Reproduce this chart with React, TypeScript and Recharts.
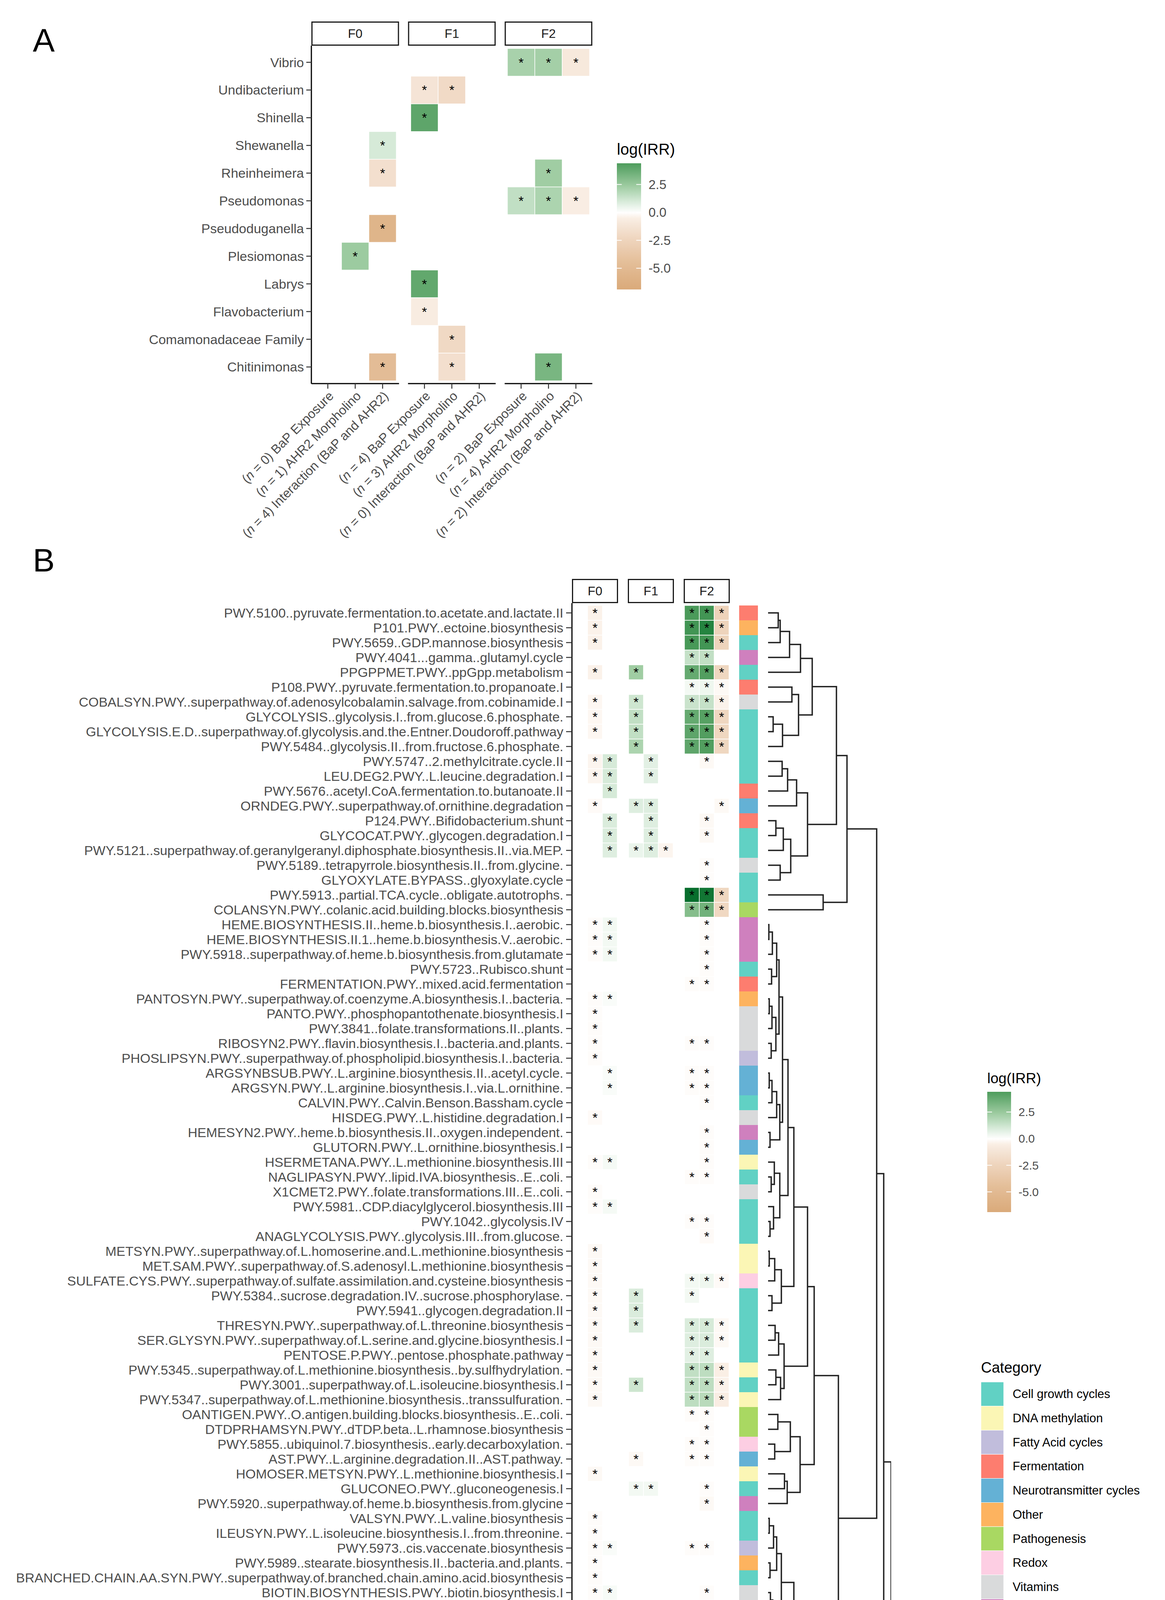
import React from 'react';
import { ScatterChart, Scatter, XAxis, YAxis, ReferenceLine } from 'recharts';

const FONT = "'Liberation Sans', Arial, Helvetica, sans-serif";
const GREY30 = '#4d4d4d';

const generations = ['F0', 'F1', 'F2'];
const terms = ['BaP Exposure', 'AHR2 Morpholino', 'Interaction (BaP and AHR2)'];

// ---------------- panel A : genera ----------------
const taxa = [
  'Vibrio', 'Undibacterium', 'Shinella', 'Shewanella', 'Rheinheimera', 'Pseudomonas',
  'Pseudoduganella', 'Plesiomonas', 'Labrys', 'Flavobacterium', 'Comamonadaceae Family', 'Chitinimonas',
];

// [row in taxa (1-based), log(IRR)] - every tile drawn is significant (*)
const taxaF0Bap: number[][] = [];
const taxaF0Ahr2 = [[8, 2.4]];
const taxaF0Int = [[4, 1.0], [5, -1.6], [7, -5.6], [12, -4.7]];
const taxaF1Bap = [[2, -1.2], [3, 4.0], [9, 3.9], [10, -0.7]];
const taxaF1Ahr2 = [[2, -2.0], [11, -2.1], [12, -1.6]];
const taxaF1Int: number[][] = [];
const taxaF2Bap = [[1, 2.1], [6, 1.5]];
const taxaF2Ahr2 = [[1, 2.2], [5, 2.3], [6, 2.0], [12, 3.3]];
const taxaF2Int = [[1, -0.9], [6, -0.6]];

// ---------------- panel B : pathways ----------------
const pathways = [
  'PWY.5100..pyruvate.fermentation.to.acetate.and.lactate.II',
  'P101.PWY..ectoine.biosynthesis',
  'PWY.5659..GDP.mannose.biosynthesis',
  'PWY.4041...gamma..glutamyl.cycle',
  'PPGPPMET.PWY..ppGpp.metabolism',
  'P108.PWY..pyruvate.fermentation.to.propanoate.I',
  'COBALSYN.PWY..superpathway.of.adenosylcobalamin.salvage.from.cobinamide.I',
  'GLYCOLYSIS..glycolysis.I..from.glucose.6.phosphate.',
  'GLYCOLYSIS.E.D..superpathway.of.glycolysis.and.the.Entner.Doudoroff.pathway',
  'PWY.5484..glycolysis.II..from.fructose.6.phosphate.',
  'PWY.5747..2.methylcitrate.cycle.II',
  'LEU.DEG2.PWY..L.leucine.degradation.I',
  'PWY.5676..acetyl.CoA.fermentation.to.butanoate.II',
  'ORNDEG.PWY..superpathway.of.ornithine.degradation',
  'P124.PWY..Bifidobacterium.shunt',
  'GLYCOCAT.PWY..glycogen.degradation.I',
  'PWY.5121..superpathway.of.geranylgeranyl.diphosphate.biosynthesis.II..via.MEP.',
  'PWY.5189..tetrapyrrole.biosynthesis.II..from.glycine.',
  'GLYOXYLATE.BYPASS..glyoxylate.cycle',
  'PWY.5913..partial.TCA.cycle..obligate.autotrophs.',
  'COLANSYN.PWY..colanic.acid.building.blocks.biosynthesis',
  'HEME.BIOSYNTHESIS.II..heme.b.biosynthesis.I..aerobic.',
  'HEME.BIOSYNTHESIS.II.1..heme.b.biosynthesis.V..aerobic.',
  'PWY.5918..superpathway.of.heme.b.biosynthesis.from.glutamate',
  'PWY.5723..Rubisco.shunt',
  'FERMENTATION.PWY..mixed.acid.fermentation',
  'PANTOSYN.PWY..superpathway.of.coenzyme.A.biosynthesis.I..bacteria.',
  'PANTO.PWY..phosphopantothenate.biosynthesis.I',
  'PWY.3841..folate.transformations.II..plants.',
  'RIBOSYN2.PWY..flavin.biosynthesis.I..bacteria.and.plants.',
  'PHOSLIPSYN.PWY..superpathway.of.phospholipid.biosynthesis.I..bacteria.',
  'ARGSYNBSUB.PWY..L.arginine.biosynthesis.II..acetyl.cycle.',
  'ARGSYN.PWY..L.arginine.biosynthesis.I..via.L.ornithine.',
  'CALVIN.PWY..Calvin.Benson.Bassham.cycle',
  'HISDEG.PWY..L.histidine.degradation.I',
  'HEMESYN2.PWY..heme.b.biosynthesis.II..oxygen.independent.',
  'GLUTORN.PWY..L.ornithine.biosynthesis.I',
  'HSERMETANA.PWY..L.methionine.biosynthesis.III',
  'NAGLIPASYN.PWY..lipid.IVA.biosynthesis..E..coli.',
  'X1CMET2.PWY..folate.transformations.III..E..coli.',
  'PWY.5981..CDP.diacylglycerol.biosynthesis.III',
  'PWY.1042..glycolysis.IV',
  'ANAGLYCOLYSIS.PWY..glycolysis.III..from.glucose.',
  'METSYN.PWY..superpathway.of.L.homoserine.and.L.methionine.biosynthesis',
  'MET.SAM.PWY..superpathway.of.S.adenosyl.L.methionine.biosynthesis',
  'SULFATE.CYS.PWY..superpathway.of.sulfate.assimilation.and.cysteine.biosynthesis',
  'PWY.5384..sucrose.degradation.IV..sucrose.phosphorylase.',
  'PWY.5941..glycogen.degradation.II',
  'THRESYN.PWY..superpathway.of.L.threonine.biosynthesis',
  'SER.GLYSYN.PWY..superpathway.of.L.serine.and.glycine.biosynthesis.I',
  'PENTOSE.P.PWY..pentose.phosphate.pathway',
  'PWY.5345..superpathway.of.L.methionine.biosynthesis..by.sulfhydrylation.',
  'PWY.3001..superpathway.of.L.isoleucine.biosynthesis.I',
  'PWY.5347..superpathway.of.L.methionine.biosynthesis..transsulfuration.',
  'OANTIGEN.PWY..O.antigen.building.blocks.biosynthesis..E..coli.',
  'DTDPRHAMSYN.PWY..dTDP.beta..L.rhamnose.biosynthesis',
  'PWY.5855..ubiquinol.7.biosynthesis..early.decarboxylation.',
  'AST.PWY..L.arginine.degradation.II..AST.pathway.',
  'HOMOSER.METSYN.PWY..L.methionine.biosynthesis.I',
  'GLUCONEO.PWY..gluconeogenesis.I',
  'PWY.5920..superpathway.of.heme.b.biosynthesis.from.glycine',
  'VALSYN.PWY..L.valine.biosynthesis',
  'ILEUSYN.PWY..L.isoleucine.biosynthesis.I..from.threonine.',
  'PWY.5973..cis.vaccenate.biosynthesis',
  'PWY.5989..stearate.biosynthesis.II..bacteria.and.plants.',
  'BRANCHED.CHAIN.AA.SYN.PWY..superpathway.of.branched.chain.amino.acid.biosynthesis',
  'BIOTIN.BIOSYNTHESIS.PWY..biotin.biosynthesis.I',
  'NONOXIPENT.PWY..pentose.phosphate.pathway..non.oxidative.branch..I',
  'GLYCOGENSYNTH.PWY..glycogen.biosynthesis.I..from.ADP.D.Glucose.',
  'PWY.5136..fatty.acid..beta..oxidation.II..plant.peroxisome.',
  'FAO.PWY..fatty.acid..beta..oxidation.I..generic.',
  'FASYN.ELONG.PWY..fatty.acid.elongation....saturated',
  'PWY.5138..fatty.acid..beta..oxidation.IV..unsaturated..even.number.',
  'SALVADEHYPOX.PWY..adenosine.nucleotides.degradation.II',
  'LIPASYN.PWY..phospholipases',
  'FUCCAT.PWY..fucose.degradation',
  'PWY.4984..urea.cycle',
  'CITRULBIO.PWY..L.citrulline.biosynthesis',
  'PWY.5837..2.carboxy.1.4.naphthoquinol.biosynthesis',
  'PWY.5898..superpathway.of.menaquinol.12.biosynthesis',
  'PWY.5897..superpathway.of.menaquinol.11.biosynthesis',
  'PWY.5899..superpathway.of.menaquinol.13.biosynthesis',
  'P441.PWY..superpathway.of.N.acetylneuraminate.degradation',
  'P42.PWY..incomplete.reductive.TCA.cycle',
  'TYRFUMCAT.PWY..L.tyrosine.degradation.I',
  'POLYISOPRENSYN.PWY..polyisoprenoid.biosynthesis..E..coli.',
  'PWY.5972..stearate.biosynthesis.I..animals.',
  'P221.PWY..octane.oxidation',
  'VALDEG.PWY..L.valine.degradation.I',
];

const categories = [
  'Cell growth cycles', 'DNA methylation', 'Fatty Acid cycles', 'Fermentation', 'Neurotransmitter cycles',
  'Other', 'Pathogenesis', 'Redox', 'Vitamins', 'Xenobiotic metabolism',
];
const categoryColors = [
  '#61d1c4', '#fbf6b5', '#c1bddc', '#fd7d6f', '#64b1d5', '#fdb35f', '#a9d862', '#fdcee3', '#d9dadb', '#cf80be',
];
// index into categories, one per pathway row
const pathwayCategory = [
  3, 5, 0, 9, 0, 3, 8, 0, 0, 0, 0, 0,
  3, 4, 3, 0, 0, 8, 0, 0, 6,
  9, 9, 9, 0, 3, 5, 8, 8, 8, 2, 4, 4, 0, 8, 9, 4, 1, 0, 8,
  0, 0, 0, 1, 1, 7, 0, 0, 0, 0, 0, 1, 0, 1, 6, 6, 7, 4, 1, 0,
  9, 0, 0, 2, 5, 0, 8, 0, 0, 2, 2, 2, 2, 0, 2, 0, 0, 4, 8, 7, 7, 7, 6, 0, 0, 0, 5, 9, 0,
];

// [row in pathways (1-based), log(IRR)]
const pathF0Bap: number[][] = [];
const pathF0Ahr2 = [
  [1, -0.4], [2, -0.4], [3, -0.4], [5, -0.4], [7, -0.25], [8, -0.25], [9, -0.25], [11, -0.3], [12, -0.3],
  [14, -0.15], [22, -0.1], [23, -0.1], [24, -0.1], [27, -0.1], [28, -0.1], [29, -0.1], [30, -0.1], [31, -0.1],
  [35, -0.15], [38, -0.1], [40, -0.1], [41, -0.1], [44, -0.2], [45, -0.2], [46, -0.2], [47, -0.2], [48, -0.2],
  [49, -0.2], [50, -0.2], [51, -0.2], [52, -0.2], [53, -0.2], [54, -0.2], [59, -0.2], [62, -0.1], [63, -0.1],
  [64, -0.1], [65, -0.1], [66, -0.1], [67, -0.1], [68, -0.1], [69, -0.1], [72, -0.1], [76, 7.2], [77, 4.2],
  [78, 4.0], [79, 2.4],
];
const pathF0Int = [
  [11, 1.0], [12, 1.0], [13, 1.0], [15, 0.9], [16, 0.9], [17, 0.8], [22, 0.3], [23, 0.3], [24, 0.3], [27, 0.15],
  [32, 0.15], [33, 0.15], [38, 0.25], [41, 0.25], [64, 0.15], [67, 0.2], [70, 0.3], [71, 0.3], [72, 0.3], [73, 0.3],
  [83, -4.8], [84, -2.8],
];
const pathF1Bap = [
  [5, 2.3], [7, 1.2], [8, 1.5], [9, 1.5], [10, 2.0], [14, 0.8], [17, 0.5], [47, 0.9], [48, 0.9], [49, 0.9],
  [53, 1.2], [58, -0.2], [60, 0.3],
];
const pathF1Ahr2 = [[11, 0.7], [12, 0.7], [14, 0.8], [15, 0.8], [16, 0.8], [17, 0.8], [60, 0.3]];
const pathF1Int = [[17, -0.3]];
const pathF2Bap = [
  [1, 4.5], [2, 4.8], [3, 4.6], [4, 1.4], [5, 3.8], [6, 0.3], [7, 1.3], [8, 3.8], [9, 4.0], [10, 4.0],
  [20, 7.5], [21, 3.0], [26, -0.1], [30, -0.1], [32, -0.1], [33, -0.1], [39, -0.1], [42, -0.1], [46, 0.3],
  [47, 0.3], [49, 0.9], [50, 0.8], [51, 0.7], [52, 1.5], [53, 1.5], [54, 1.6], [55, -0.1], [57, -0.1],
  [58, -0.1], [64, -0.1], [68, 0.15], [80, -1.0], [81, -1.0], [82, -1.0], [85, 5.2], [86, 4.2], [87, 7.2],
  [88, 2.6], [89, 6.6],
];
const pathF2Ahr2 = [
  [1, 4.8], [2, 5.8], [3, 4.8], [4, 1.5], [5, 4.3], [6, 0.4], [7, 1.4], [8, 4.2], [9, 4.3], [10, 4.3],
  [11, -0.2], [15, -0.2], [16, -0.2], [18, -0.1], [19, -0.1], [20, 6.8], [21, 3.5], [22, -0.1], [23, -0.1],
  [24, -0.1], [25, -0.1], [26, -0.1], [30, -0.1], [32, -0.1], [33, -0.1], [34, -0.1], [36, -0.1], [37, -0.1],
  [38, -0.1], [39, -0.1], [42, -0.1], [43, -0.15], [46, 0.4], [49, 1.0], [50, 0.9], [51, 0.8], [52, 1.6],
  [53, 1.6], [54, 1.7], [55, -0.1], [56, -0.1], [57, -0.1], [58, -0.1], [60, -0.1], [61, -0.2], [64, -0.1],
  [67, -0.1], [68, 0.2], [71, -0.1], [72, -0.1], [74, -0.5], [75, -1.9], [80, -1.0], [81, -1.0], [82, -1.0],
  [84, 8.0], [85, 4.4], [86, 6.8],
];
const pathF2Int = [
  [1, -2.6], [2, -2.5], [3, -2.5], [5, -2.3], [6, -0.2], [7, -0.4], [8, -2.3], [9, -2.3], [10, -2.3],
  [14, -0.2], [20, -2.3], [21, -2.2], [46, -0.15], [49, -0.2], [50, -0.2], [52, -0.5], [53, -0.4], [54, -0.6],
  [68, -0.1], [80, 2.5], [81, 2.5], [82, 2.5], [85, -2.5], [87, -4.2], [89, -4.2],
];

// dendrogram of the pathway rows, hclust style: negative = leaf row, positive = earlier merge (1-based), height
const pathMerges = [
  [-1, -2, 26], [1, -3, 31], [2, -4, 55], [3, -5, 83], [-6, -7, 61], [-8, -9, 13], [6, -10, 37], [5, 7, 78],
  [4, 8, 113], [-11, -12, 36], [10, -13, 50], [11, -14, 73], [-15, -16, 20], [13, -17, 39], [-18, -19, 31],
  [14, 15, 58], [12, 16, 101], [9, 17, 175], [-20, -21, 141], [18, 19, 202],
  [-22, -23, 2], [21, -24, 11], [-25, -26, 9], [22, 23, 22], [-27, -28, 3], [25, -29, 10], [-30, -31, 8],
  [26, 27, 20], [24, 28, 28], [-32, -33, 3], [30, -34, 10], [31, -35, 22], [-36, -37, 5], [32, 33, 30],
  [29, 34, 37], [-39, -40, 8], [-38, 36, 16], [-42, -43, 5], [-41, 38, 14], [37, 39, 30], [35, 40, 51],
  [-44, -45, 3], [42, -46, 17], [-47, -48, 10], [43, 44, 34], [41, 45, 66],
  [-49, -50, 18], [47, -51, 27], [-52, -53, 20], [49, -54, 32], [48, 50, 41], [46, 51, 101],
  [-55, -56, 25], [-57, -58, 17], [53, 54, 57], [-59, -60, 42], [56, -61, 49], [55, 57, 82], [52, 58, 118],
  [-62, -63, 3], [60, -64, 14], [-65, -66, 5], [61, 62, 22], [-67, -68, 6], [64, -69, 12], [63, 65, 34],
  [-70, -71, 3], [67, -72, 20], [68, -73, 36], [66, 69, 66], [70, -74, 104], [59, 71, 180], [20, 72, 278],
  [-75, -76, 134], [-77, -78, 18], [75, -79, 46], [-80, -81, 0.6], [77, -82, 1.2], [76, 78, 97], [74, 79, 182],
  [73, 80, 296],
  [-83, -84, 165], [-85, -86, 133], [82, 83, 207], [-87, -88, 151], [85, -89, 188], [84, 86, 272], [81, 87, 315],
];

// ---------------- colour scale ----------------
const posStops: [number, number[]][] = [
  [0, [255, 255, 255]], [1, [214, 234, 216]], [2.3, [160, 205, 163]], [4.4, [78, 156, 92]], [6, [30, 128, 60]], [8, [0, 104, 40]],
];
const negStops: [number, number[]][] = [
  [0, [255, 255, 255]], [0.5, [250, 239, 229]], [1, [246, 231, 218]], [2.5, [238, 212, 188]], [4.5, [228, 190, 152]], [6.9, [218, 170, 122]],
];
function irrColor(v: number) {
  const stops = v >= 0 ? posStops : negStops;
  const a = Math.abs(v);
  for (let i = 1; i < stops.length; i++) {
    if (a <= stops[i][0] || i === stops.length - 1) {
      const [a0, c0] = stops[i - 1];
      const [a1, c1] = stops[i];
      const t = Math.max(0, Math.min(1, (a - a0) / (a1 - a0)));
      const c = c0.map((ch, k) => Math.round(ch + (c1[k] - ch) * t));
      return `rgb(${c[0]},${c[1]},${c[2]})`;
    }
  }
  return '#fff';
}
const LEG_MAX = 4.4;
const LEG_MIN = -6.9;
const legendBreaks = [2.5, 0, -2.5, -5];

// ---------------- layout ----------------
const W = 2982;
const H = 5388;

const A_LEFT = 797;
const A_TOP = 117;
const A_UX = 70.12;
const A_UY = 70.9;
const A_FACET = 3.2;
const A_GAP = 0.328;
const A_XMAX = 3 * A_FACET + 2 * A_GAP;
const A_YMIN = 0.4;
const A_YMAX = 12.6;
const A_RIGHT = A_LEFT + A_XMAX * A_UX;
const A_BOTTOM = A_TOP + (A_YMAX - A_YMIN) * A_UY;
const A_H = 1500;
const aColX = (k: number) => Math.floor(k / 3) * (A_FACET + A_GAP) + 0.1 + 0.5 + (k % 3);

const B_CHART_TOP = 1400;
const B_LEFT = 1464;
const B_TOP = 1544;
const B_U = 38;
const B_FACET = 118 / 38;
const B_GAP = 25 / 38;
const B_PAD = 2 / 38;
const B_STRIP_X = (1916 - 1464) / 38;
const B_STRIP_W = 48;
const B_XMAX = (1940 - 1464) / 38;
const B_YMIN = 0.342;
const B_YMAX = 89.63;
const B_RIGHT = B_LEFT + B_XMAX * B_U;
const B_BOTTOM = B_TOP + (B_YMAX - B_YMIN) * B_U;
const B_CH = H - B_CHART_TOP;
const bColX = (k: number) => Math.floor(k / 3) * (B_FACET + B_GAP) + B_PAD + 0.5 + (k % 3);

const D_LEFT = 1966;
const D_HMAX = 315;

// ---------------- derived series ----------------
const aColumns = [taxaF0Bap, taxaF0Ahr2, taxaF0Int, taxaF1Bap, taxaF1Ahr2, taxaF1Int, taxaF2Bap, taxaF2Ahr2, taxaF2Int];
const bColumns = [pathF0Bap, pathF0Ahr2, pathF0Int, pathF1Bap, pathF1Ahr2, pathF1Int, pathF2Bap, pathF2Ahr2, pathF2Int];

const buildCells = (cols: number[][][], colX: (k: number) => number) =>
  cols.flatMap((col, k) => col.map(([row, v]) => ({ x: colX(k), y: row, v })));

const aCells = buildCells(aColumns, aColX);
const bCells = buildCells(bColumns, bColX);
const aTicks = aColumns.map((_, k) => aColX(k));
const bTicks = bColumns.map((_, k) => bColX(k));
const aLabels = aColumns.map((c, k) => ({ n: c.length, term: terms[k % 3] }));
const bLabels = bColumns.map((c, k) => ({ n: c.length, term: terms[k % 3] }));
const stripCells = pathwayCategory.map((c, i) => ({ x: B_STRIP_X, y: i + 1, c }));

const dendroPaths = (() => {
  const nodes: { h: number; y: number }[] = [];
  const get = (id: number) => (id < 0 ? { h: 0, y: -id } : nodes[id - 1]);
  return pathMerges.map(([a, b, h]) => {
    const L = get(a);
    const R = get(b);
    nodes.push({ h, y: (L.y + R.y) / 2 });
    return [
      { x: L.h, y: L.y },
      { x: h, y: L.y },
      { x: h, y: R.y },
      { x: R.h, y: R.y },
    ];
  });
})();

// ---------------- pieces ----------------
const heatShape = (uw: number, uh: number, fs: number) => (props: any) => {
  const { cx, cy, payload } = props;
  return (
    <g>
      <rect x={cx - uw / 2} y={cy - uh / 2} width={uw} height={uh} fill={irrColor(payload.v)} stroke="#ffffff" strokeWidth={1.5} />
      <text x={cx} y={cy} textAnchor="middle" dominantBaseline="central" fontSize={fs} fontFamily={FONT} fill="#000">
        *
      </text>
    </g>
  );
};

const stripShape = (props: any) => {
  const { cx, cy, payload } = props;
  return <rect x={cx - B_STRIP_W / 2} y={cy - B_U / 2} width={B_STRIP_W} height={B_U} fill={categoryColors[payload.c]} />;
};

const SlantTick = (props: any) => {
  const { x, y, index, labels, fs } = props;
  const lab = labels[index];
  if (!lab) return null;
  return (
    <g transform={`translate(${x},${y})`}>
      <text transform="rotate(-45)" textAnchor="end" dy="0.72em" fontSize={fs} fontFamily={FONT} fill={GREY30}>
        {'('}
        <tspan fontStyle="italic">n</tspan>
        {` = ${lab.n}) ${lab.term}`}
      </text>
    </g>
  );
};

const NameTick = (props: any) => {
  const { x, y, payload, names, fs } = props;
  return (
    <text x={x} y={y} textAnchor="end" dominantBaseline="central" fontSize={fs} fontFamily={FONT} fill={GREY30}>
      {names[Math.round(payload.value) - 1]}
    </text>
  );
};

const gradStops = Array.from({ length: 24 }, (_, i) => {
  const v = LEG_MAX - ((LEG_MAX - LEG_MIN) * i) / 23;
  return { off: i / 23, col: irrColor(v) };
});

function IrrLegend(p: { id: string; x: number; titleY: number; top: number; w: number; h: number; titleSize: number; labelX: number; labelSize: number }) {
  const vy = (v: number) => p.top + ((LEG_MAX - v) / (LEG_MAX - LEG_MIN)) * p.h;
  return (
    <g>
      <defs>
        <linearGradient id={p.id} x1="0" y1="0" x2="0" y2="1">
          {gradStops.map((s, i) => (
            <stop key={i} offset={s.off} stopColor={s.col} />
          ))}
        </linearGradient>
      </defs>
      <text x={p.x} y={p.titleY} fontSize={p.titleSize} fontFamily={FONT} fill="#000">
        log(IRR)
      </text>
      <rect x={p.x} y={p.top} width={p.w} height={p.h} fill={`url(#${p.id})`} />
      {legendBreaks.map((b) => (
        <g key={b}>
          <line x1={p.x} x2={p.x + p.w * 0.2} y1={vy(b)} y2={vy(b)} stroke="#fff" strokeWidth={2} />
          <line x1={p.x + p.w * 0.8} x2={p.x + p.w} y1={vy(b)} y2={vy(b)} stroke="#fff" strokeWidth={2} />
          <text x={p.labelX} y={vy(b)} dominantBaseline="central" fontSize={p.labelSize} fontFamily={FONT} fill={GREY30}>
            {b.toFixed(1)}
          </text>
        </g>
      ))}
    </g>
  );
}

function Strip({ x, y, w, h, label, fs }: { x: number; y: number; w: number; h: number; label: string; fs: number }) {
  return (
    <g>
      <rect x={x + 1.5} y={y + 1.5} width={w - 3} height={h - 3} fill="#fff" stroke="#1a1a1a" strokeWidth={3} />
      <text x={x + w / 2} y={y + h / 2} textAnchor="middle" dominantBaseline="central" fontSize={fs} fontFamily={FONT} fill="#1a1a1a">
        {label}
      </text>
    </g>
  );
}

const tickLineStyle = { stroke: '#333333', strokeWidth: 2.5 };
const axisLineStyle = { stroke: '#000000', strokeWidth: 3 };

export default function App() {
  return (
    <div style={{ position: 'relative', width: W, height: H, background: '#ffffff', overflow: 'hidden', fontFamily: FONT }}>
      <style>{'html,body{margin:0;padding:0;}'}</style>

      {/* panel A heatmap */}
      <div style={{ position: 'absolute', left: 0, top: 0 }}>
        <ScatterChart width={W} height={A_H} margin={{ top: A_TOP, right: W - A_RIGHT, bottom: 0, left: 0 }}>
          <XAxis
            type="number"
            dataKey="x"
            domain={[0, A_XMAX]}
            ticks={aTicks}
            interval={0}
            allowDataOverflow
            height={A_H - A_BOTTOM}
            axisLine={false}
            tickLine={tickLineStyle}
            tickSize={13}
            tickMargin={4}
            tick={(p: any) => <SlantTick {...p} labels={aLabels} fs={33} />}
          />
          <YAxis
            type="number"
            dataKey="y"
            domain={[A_YMIN, A_YMAX]}
            reversed
            ticks={taxa.map((_, i) => i + 1)}
            interval={0}
            allowDataOverflow
            width={A_LEFT}
            axisLine={axisLineStyle}
            tickLine={tickLineStyle}
            tickSize={13}
            tickMargin={6}
            tick={(p: any) => <NameTick {...p} names={taxa} fs={34} />}
          />
          {generations.map((g, f) => (
            <ReferenceLine
              key={g}
              ifOverflow="visible"
              segment={[
                { x: f * (A_FACET + A_GAP), y: A_YMAX },
                { x: f * (A_FACET + A_GAP) + A_FACET, y: A_YMAX },
              ]}
              stroke="#000"
              strokeWidth={3}
            />
          ))}
          <Scatter data={aCells} shape={heatShape(A_UX, A_UY, 34)} isAnimationActive={false} />
        </ScatterChart>
      </div>

      {/* panel B heatmap + category strip */}
      <div style={{ position: 'absolute', left: 0, top: B_CHART_TOP }}>
        <ScatterChart
          width={W}
          height={B_CH}
          margin={{ top: B_TOP - B_CHART_TOP, right: W - B_RIGHT, bottom: 0, left: 0 }}
        >
          <XAxis
            type="number"
            dataKey="x"
            domain={[0, B_XMAX]}
            ticks={bTicks}
            interval={0}
            allowDataOverflow
            height={B_CH - (B_BOTTOM - B_CHART_TOP)}
            axisLine={false}
            tickLine={tickLineStyle}
            tickSize={13}
            tickMargin={4}
            tick={(p: any) => <SlantTick {...p} labels={bLabels} fs={33} />}
          />
          <YAxis
            type="number"
            dataKey="y"
            domain={[B_YMIN, B_YMAX]}
            reversed
            ticks={pathways.map((_, i) => i + 1)}
            interval={0}
            allowDataOverflow
            width={B_LEFT}
            axisLine={axisLineStyle}
            tickLine={tickLineStyle}
            tickSize={15}
            tickMargin={7}
            tick={(p: any) => <NameTick {...p} names={pathways} fs={34} />}
          />
          {generations.map((g, f) => (
            <ReferenceLine
              key={g}
              ifOverflow="visible"
              segment={[
                { x: f * (B_FACET + B_GAP), y: B_YMAX },
                { x: f * (B_FACET + B_GAP) + B_FACET, y: B_YMAX },
              ]}
              stroke="#000"
              strokeWidth={3}
            />
          ))}
          <Scatter data={stripCells} shape={stripShape} isAnimationActive={false} />
          <Scatter data={bCells} shape={heatShape(B_U, B_U, 34)} isAnimationActive={false} />
        </ScatterChart>
      </div>

      {/* panel B dendrogram */}
      <div style={{ position: 'absolute', left: 1900, top: B_CHART_TOP }}>
        <ScatterChart
          width={400}
          height={B_CH}
          margin={{ top: B_TOP - B_CHART_TOP, right: 400 - (D_LEFT - 1900) - D_HMAX, bottom: H - B_BOTTOM, left: D_LEFT - 1900 }}
        >
          <XAxis type="number" dataKey="x" domain={[0, D_HMAX]} allowDataOverflow hide />
          <YAxis type="number" dataKey="y" domain={[B_YMIN, B_YMAX]} reversed allowDataOverflow hide />
          {dendroPaths.map((pts, i) => (
            <Scatter
              key={i}
              data={pts}
              line={{ stroke: '#222222', strokeWidth: 3.5 }}
              shape={() => <g />}
              isAnimationActive={false}
            />
          ))}
        </ScatterChart>
      </div>

      {/* strips, legends, panel letters */}
      <svg width={W} height={H} style={{ position: 'absolute', left: 0, top: 0, pointerEvents: 'none' }}>
        <text x={84} y={132} fontSize={84} fontFamily={"'Liberation Sans Narrow', " + FONT} fill="#000">
          A
        </text>
        <text x={84} y={1463} fontSize={84} fontFamily={"'Liberation Sans Narrow', " + FONT} fill="#000">
          B
        </text>

        {generations.map((g, f) => (
          <Strip
            key={'a' + g}
            x={A_LEFT + f * (A_FACET + A_GAP) * A_UX}
            y={55}
            w={A_FACET * A_UX}
            h={A_TOP - 55}
            label={g}
            fs={32}
          />
        ))}
        {generations.map((g, f) => (
          <Strip
            key={'b' + g}
            x={B_LEFT + f * (B_FACET + B_GAP) * B_U}
            y={1482}
            w={B_FACET * B_U}
            h={B_TOP - 1482}
            label={g}
            fs={32}
          />
        ))}

        <IrrLegend id="gradA" x={1579} titleY={396} top={418} w={62} h={323} titleSize={40} labelX={1660} labelSize={33} />
        <IrrLegend id="gradB" x={2527} titleY={2773} top={2795} w={61} h={308} titleSize={37} labelX={2607} labelSize={30} />

        <text x={2511} y={3514} fontSize={38} fontFamily={FONT} fill="#000">
          Category
        </text>
        {categories.map((c, i) => (
          <g key={c}>
            <rect x={2511} y={3538 + i * 61.7} width={58} height={61.7} fill={categoryColors[i]} stroke="#fff" strokeWidth={1} />
            <text x={2592} y={3538 + i * 61.7 + 30.85} dominantBaseline="central" fontSize={31} fontFamily={FONT} fill="#000">
              {c}
            </text>
          </g>
        ))}
      </svg>
    </div>
  );
}
